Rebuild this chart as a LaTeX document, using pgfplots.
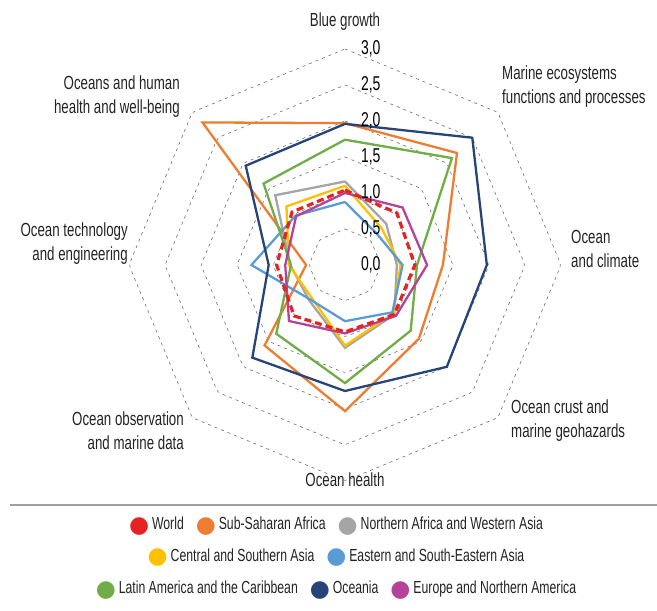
\documentclass[border=0pt]{standalone}
\usepackage{pgfplots}
\pgfplotsset{compat=1.18}
\usepackage{fontspec}
\setmainfont[FakeStretch=0.70]{Liberation Sans}
\newfontfamily\symfont{DejaVu Sans}
\definecolor{cWorld}{RGB}{228,35,34}
\definecolor{cSSA}{RGB}{237,125,49}
\definecolor{cNAWA}{RGB}{165,165,165}
\definecolor{cCSA}{RGB}{255,192,0}
\definecolor{cESEA}{RGB}{91,155,213}
\definecolor{cLAC}{RGB}{112,173,71}
\definecolor{cOce}{RGB}{38,68,120}
\definecolor{cEur}{RGB}{181,67,154}
\definecolor{ctext}{RGB}{35,35,35}
\newcommand{\ldot}[1]{{\color{#1}\fontsize{23}{20}\selectfont\symfont\raisebox{-2.2pt}{●}}}
\begin{document}
\begin{tikzpicture}
\useasboundingbox (0,0) rectangle (657pt,611pt);
\begin{axis}[
  at={(0,0)}, anchor=south west,
  x=72pt, y=72pt,
  xmin=-4.7917, xmax=4.3333, ymin=-4.8056, ymax=3.6806,
  hide axis, clip=false,
  every axis plot/.append style={line join=miter, mark=none},
]
% grid rings
\foreach \r in {0.5,1.0,1.5,2.0,2.5,3.0}{
  \edef\tmp{\noexpand\addplot[data cs=polar, gray!85!black, line width=0.6pt, dash pattern=on 3pt off 4pt, rounded corners=3pt]
  coordinates {(90,\r) (45,\r) (0,\r) (-45,\r) (-90,\r) (-135,\r) (180,\r) (135,\r) (90,\r)};}
  \tmp
}
% series: Blue growth, Marine ecosystems, Ocean and climate, Ocean crust, Ocean health, Ocean observation, Ocean technology, Human health
\addplot[data cs=polar, cSSA, line width=2.3pt] coordinates {(90,1.97) (45,2.20) (0,1.36) (-45,1.45) (-90,2.03) (-135,1.58) (180,0.54) (135,2.80) (90,1.97)};
\addplot[data cs=polar, cNAWA, line width=2.3pt] coordinates {(90,1.16) (45,0.81) (0,0.72) (-45,0.97) (-90,1.15) (-135,0.70) (180,0.76) (135,1.37) (90,1.16)};
\addplot[data cs=polar, cCSA, line width=2.3pt] coordinates {(90,1.10) (45,0.72) (0,0.77) (-45,0.95) (-90,1.12) (-135,0.65) (180,0.78) (135,1.15) (90,1.10)};
\addplot[data cs=polar, cESEA, line width=2.3pt] coordinates {(90,0.875) (45,0.62) (0,0.80) (-45,0.93) (-90,0.78) (-135,0.68) (180,1.30) (135,0.97) (90,0.875)};
\addplot[data cs=polar, cLAC, line width=2.3pt] coordinates {(90,1.74) (45,2.10) (0,1.00) (-45,1.29) (-90,1.64) (-135,1.35) (180,0.75) (135,1.60) (90,1.74)};
\addplot[data cs=polar, cOce, line width=2.3pt] coordinates {(90,1.96) (45,2.50) (0,1.97) (-45,2.00) (-90,1.75) (-135,1.82) (180,1.06) (135,1.95) (90,1.96)};
\addplot[data cs=polar, cEur, line width=2.3pt] coordinates {(90,1.00) (45,1.13) (0,1.14) (-45,1.00) (-90,0.95) (-135,1.10) (180,0.83) (135,0.96) (90,1.00)};
\addplot[data cs=polar, cWorld, line width=3.2pt, dash pattern=on 7pt off 4pt] coordinates {(90,1.04) (45,1.02) (0,0.97) (-45,0.97) (-90,0.93) (-135,1.00) (180,0.95) (135,1.04) (90,1.04)};
% radial tick labels
\foreach \r/\t in {0/{0,0},0.5/{0,5},1/{1,0},1.5/{1,5},2/{2,0},2.5/{2,5},3/{3,0}}{
  \edef\tmp{\noexpand\node[anchor=west, inner sep=0pt, font=\noexpand\fontsize{20}{20}\noexpand\selectfont, text=black] at (axis cs:0.22,\r) {\t};}
  \tmp
}
% category labels
\begin{scope}[every node/.style={font=\fontsize{19}{24}\selectfont, text=ctext, inner sep=0pt}]
\node[anchor=center] at (axis cs:0,3.375) {Blue growth};
\node[anchor=west, align=left] at (axis cs:2.181,2.472) {Marine ecosystems\\functions and processes};
\node[anchor=west, align=left] at (axis cs:3.139,0.222) {Ocean\\and climate};
\node[anchor=west, align=left] at (axis cs:2.306,-2.167) {Ocean crust and\\marine geohazards};
\node[anchor=center] at (axis cs:0,-2.986) {Ocean health};
\node[anchor=east, align=right] at (axis cs:-2.236,-2.306) {Ocean observation\\and marine data};
\node[anchor=east, align=right] at (axis cs:-3.014,0.292) {Ocean technology\\and engineering};
\node[anchor=east, align=right] at (axis cs:-2.292,2.333) {Oceans and human\\health and well-being};
\end{scope}
% separator
\draw[gray!75, line width=1.6pt] (axis cs:-4.653,-3.333) -- (axis cs:4.333,-3.333);
% legend
\begin{scope}[every node/.style={font=\fontsize{17.5}{17}\selectfont, text=ctext, inner sep=0pt, anchor=center}]
\node at (axis cs:-0.125,-3.625) {\ldot{cWorld}\,World\hspace{12pt}\ldot{cSSA}\,Sub-Saharan Africa\hspace{12pt}\ldot{cNAWA}\,Northern Africa and Western Asia};
\node at (axis cs:-0.125,-4.069) {\ldot{cCSA}\,Central and Southern Asia\hspace{12pt}\ldot{cESEA}\,Eastern and South-Eastern Asia};
\node at (axis cs:-0.125,-4.514) {\ldot{cLAC}\,Latin America and the Caribbean\hspace{12pt}\ldot{cOce}\,Oceania\hspace{12pt}\ldot{cEur}\,Europe and Northern America};
\end{scope}
\end{axis}
\end{tikzpicture}
\end{document}
